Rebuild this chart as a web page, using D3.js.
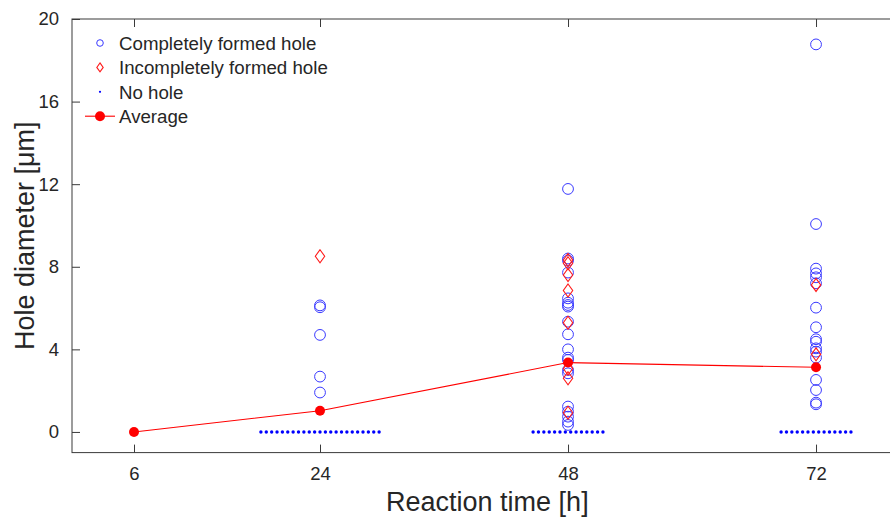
<!DOCTYPE html>
<html>
<head>
<meta charset="utf-8">
<script src="https://cdn.jsdelivr.net/npm/d3@7/dist/d3.min.js"></script>
<style>
  html, body { margin: 0; padding: 0; background: #fff; }
  svg { display: block; font-family: "Liberation Sans", Arial, Helvetica, sans-serif; }
</style>
</head>
<body>
<svg id="chart" width="890" height="517"></svg>
<script>
// ---------- data ----------
const times = [6, 24, 48, 72];
const averages = [0, 1.03, 3.36, 3.13];

const completeHoles = {
  24: [6.13, 6.04, 4.70, 2.68, 1.91],
  48: [11.77, 8.40, 8.30, 7.72, 6.47, 6.26, 6.15, 6.07, 5.34, 4.73, 4.00, 3.60, 3.49, 3.00, 2.84, 1.23, 0.98, 0.74, 0.50, 0.34],
  72: [18.77, 10.07, 7.91, 7.68, 7.49, 7.20, 6.02, 5.07, 4.49, 4.37, 4.05, 3.89, 3.60, 2.52, 2.03, 1.42, 1.34]
};
const incompleteHoles = {
  24: [8.51],
  48: [8.33, 8.17, 7.60, 6.85, 5.29, 3.07, 2.60, 0.93],
  72: [7.12, 3.76]
};
const noHoleCounts = [0, 23, 14, 14];

const xTickValues = [6, 24, 48, 72];
const yTickValues = [0, 4, 8, 12, 16, 20];
const legendLabels = ["Completely formed hole", "Incompletely formed hole", "No hole", "Average"];

(function () {
// ---------- layout ----------
const svg = d3.select("#chart");
const W = 890, H = 517;
const pLeft = 72, pRight = 898.7, pTop = 19, pBottom = 452.6;
const axisColor = "#3a3a3a", textColor = "#262626";
const noHoleSpacing = 0.52; // hours between no-hole dots (display spread)

const x = d3.scaleLinear().domain([0, 80]).range([pLeft, pRight]);
const y = d3.scaleLinear().domain([-1, 20]).range([pBottom, pTop]);

svg.append("rect").attr("width", W).attr("height", H).attr("fill", "#fff");

svg.append("clipPath").attr("id", "clip")
  .append("rect").attr("x", pLeft).attr("y", pTop).attr("width", pRight - pLeft).attr("height", pBottom - pTop);

const plot = svg.append("g").attr("clip-path", "url(#clip)");

const completePts = [], incompletePts = [], nohPts = [];
times.forEach((t, i) => {
  (completeHoles[t] || []).forEach(v => completePts.push({t, v}));
  (incompleteHoles[t] || []).forEach(v => incompletePts.push({t, v}));
  const n = noHoleCounts[i];
  for (let k = 0; k < n; k++) nohPts.push({t: t + (k - (n - 1) / 2) * noHoleSpacing, v: 0});
});

const diamond = (cx, cy, hw, hh) => `M${cx},${cy - hh}L${cx + hw},${cy}L${cx},${cy + hh}L${cx - hw},${cy}Z`;

plot.selectAll("circle.complete").data(completePts).join("circle")
  .attr("class", "complete")
  .attr("cx", d => x(d.t)).attr("cy", d => y(d.v)).attr("r", 5.4)
  .attr("fill", "none").attr("stroke", "#3a3aff").attr("stroke-width", 1);

plot.selectAll("path.incomplete").data(incompletePts).join("path")
  .attr("class", "incomplete")
  .attr("d", d => diamond(x(d.t), y(d.v), 4.7, 6.5))
  .attr("fill", "none").attr("stroke", "#ff1a1a").attr("stroke-width", 1.1);

plot.selectAll("circle.nohole").data(nohPts).join("circle")
  .attr("class", "nohole")
  .attr("cx", d => x(d.t)).attr("cy", d => y(d.v)).attr("r", 1.7)
  .attr("fill", "#0000ff");

const avgData = times.map((t, i) => ({t, v: averages[i]}));
plot.append("path").datum(avgData)
  .attr("d", d3.line().x(d => x(d.t)).y(d => y(d.v)))
  .attr("fill", "none").attr("stroke", "#ff0000").attr("stroke-width", 1.1);
plot.selectAll("circle.avg").data(avgData).join("circle")
  .attr("class", "avg")
  .attr("cx", d => x(d.t)).attr("cy", d => y(d.v)).attr("r", 5)
  .attr("fill", "#ff0000");

// ---------- axes ----------
const tickLen = 8;
svg.append("rect").attr("x", pLeft).attr("y", pTop).attr("width", pRight - pLeft).attr("height", pBottom - pTop)
  .attr("fill", "none").attr("stroke", axisColor).attr("stroke-width", 1);

const xAxisB = d3.axisBottom(x).tickValues(xTickValues).tickSizeInner(-tickLen).tickSizeOuter(0).tickPadding(14);
const gxb = svg.append("g").attr("transform", `translate(0,${pBottom})`).call(xAxisB);
gxb.select(".domain").remove();
gxb.selectAll("line").attr("stroke", axisColor);
gxb.selectAll("text").attr("fill", textColor).attr("font-size", 18.5).attr("font-family", "Liberation Sans, Arial, sans-serif");

const xAxisT = d3.axisTop(x).tickValues(xTickValues).tickSizeInner(-tickLen).tickSizeOuter(0).tickFormat("");
const gxt = svg.append("g").attr("transform", `translate(0,${pTop})`).call(xAxisT);
gxt.select(".domain").remove();
gxt.selectAll("line").attr("stroke", axisColor);

const yAxisL = d3.axisLeft(y).tickValues(yTickValues).tickSizeInner(-tickLen).tickSizeOuter(0).tickPadding(13);
const gyl = svg.append("g").attr("transform", `translate(${pLeft},0)`).call(yAxisL);
gyl.select(".domain").remove();
gyl.selectAll("line").attr("stroke", axisColor);
gyl.selectAll("text").attr("fill", textColor).attr("font-size", 18.5).attr("font-family", "Liberation Sans, Arial, sans-serif");

svg.append("text").attr("x", (pLeft + pRight) / 2 + 2).attr("y", 511)
  .attr("text-anchor", "middle").attr("font-size", 27).attr("fill", textColor)
  .text("Reaction time [h]");
svg.append("text").attr("transform", `translate(34,${(pTop + pBottom) / 2}) rotate(-90)`)
  .attr("text-anchor", "middle").attr("font-size", 27).attr("fill", textColor)
  .text("Hole diameter [\u03bcm]");

// ---------- legend ----------
const legX = 100, legTextX = 119, legY0 = 43, legDy = 24.4;
const leg = svg.append("g");
legendLabels.forEach((lab, i) => {
  const cy = legY0 + i * legDy;
  if (i === 0) {
    leg.append("circle").attr("cx", legX).attr("cy", cy).attr("r", 3.3)
      .attr("fill", "none").attr("stroke", "#3a3aff").attr("stroke-width", 1);
  } else if (i === 1) {
    leg.append("path").attr("d", diamond(legX, cy, 3.2, 4.5))
      .attr("fill", "none").attr("stroke", "#ff1a1a").attr("stroke-width", 1.1);
  } else if (i === 2) {
    leg.append("circle").attr("cx", legX).attr("cy", cy).attr("r", 1.1).attr("fill", "#0000ff");
  } else {
    leg.append("line").attr("x1", 85).attr("x2", 115).attr("y1", cy).attr("y2", cy)
      .attr("stroke", "#ff0000").attr("stroke-width", 1.1);
    leg.append("circle").attr("cx", legX).attr("cy", cy).attr("r", 5).attr("fill", "#ff0000");
  }
  leg.append("text").attr("x", legTextX).attr("y", cy).attr("dy", "0.36em")
    .attr("font-size", 18.7).attr("fill", textColor).text(lab);
});
})();
</script>
</body>
</html>
